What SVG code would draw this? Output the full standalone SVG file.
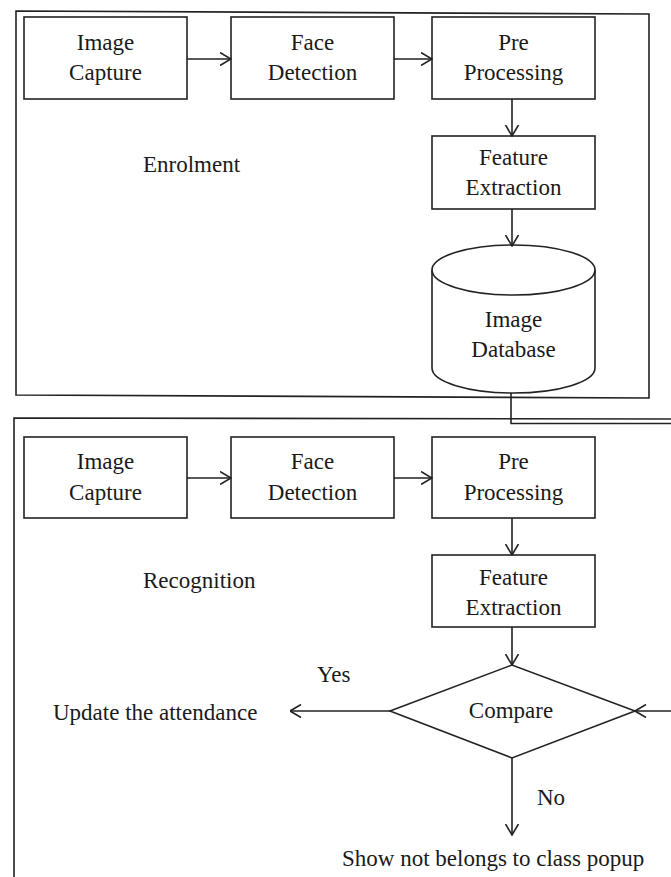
<svg xmlns="http://www.w3.org/2000/svg" width="671" height="877" viewBox="0 0 671 877" font-family="'Liberation Serif', 'DejaVu Serif', serif">
  <style>
    .frame { fill: none; stroke: #222; stroke-width: 1.6; }
    .box { fill: #fff; stroke: #222; stroke-width: 1.6; }
    .line { fill: none; stroke: #222; stroke-width: 1.6; }
    text { font-family: 'Liberation Serif', 'DejaVu Serif', serif; font-size: 23px; fill: #1a1a1a; }
    .c { text-anchor: middle; }
  </style>
  <defs>
    <marker id="arrow" viewBox="0 0 12 14" refX="11.5" refY="7" markerWidth="12" markerHeight="14" markerUnits="userSpaceOnUse" orient="auto">
      <path d="M0.5,0.5 L11.5,7 L0.5,13.5" fill="none" stroke="#222" stroke-width="1.6"/>
    </marker>
  </defs>
  <rect width="671" height="877" fill="#fff"/>

  <!-- Section frames -->
  <g id="enrolment-frame">
    <path class="frame" d="M16,11 L649,14 L649,398 L16,395 Z"/>
    <text x="143" y="172">Enrolment</text>
  </g>
  <g id="recognition-frame">
    <path class="frame" d="M671,419 L14,418 L14,877"/>
    <text x="143" y="588">Recognition</text>
  </g>

  <!-- Enrolment nodes -->
  <g id="e-image-capture">
    <rect class="box" x="24" y="17" width="163" height="82"/>
    <text class="c" x="105.5" y="50">Image</text>
    <text class="c" x="105.5" y="80">Capture</text>
  </g>
  <g id="e-face-detection">
    <rect class="box" x="231" y="17" width="163" height="82"/>
    <text class="c" x="312.5" y="50">Face</text>
    <text class="c" x="312.5" y="80">Detection</text>
  </g>
  <g id="e-pre-processing">
    <rect class="box" x="432" y="17" width="163" height="82"/>
    <text class="c" x="513.5" y="50">Pre</text>
    <text class="c" x="513.5" y="80">Processing</text>
  </g>
  <g id="e-feature-extraction">
    <rect class="box" x="432" y="136" width="163" height="73"/>
    <text class="c" x="513.5" y="165">Feature</text>
    <text class="c" x="513.5" y="195">Extraction</text>
  </g>
  <g id="image-database">
    <path class="box" d="M432,270 L432,368 A81.5,25 0 0 0 595,368 L595,270 A81.5,25 0 0 0 432,270 Z"/>
    <path class="line" d="M432,270 A81.5,25 0 0 0 595,270"/>
    <text class="c" x="513.5" y="327">Image</text>
    <text class="c" x="513.5" y="357">Database</text>
  </g>

  <!-- Recognition nodes -->
  <g id="r-image-capture">
    <rect class="box" x="24" y="437" width="163" height="81"/>
    <text class="c" x="105.5" y="469">Image</text>
    <text class="c" x="105.5" y="500">Capture</text>
  </g>
  <g id="r-face-detection">
    <rect class="box" x="231" y="437" width="163" height="81"/>
    <text class="c" x="312.5" y="469">Face</text>
    <text class="c" x="312.5" y="500">Detection</text>
  </g>
  <g id="r-pre-processing">
    <rect class="box" x="432" y="437" width="163" height="81"/>
    <text class="c" x="513.5" y="469">Pre</text>
    <text class="c" x="513.5" y="500">Processing</text>
  </g>
  <g id="r-feature-extraction">
    <rect class="box" x="432" y="555" width="163" height="72"/>
    <text class="c" x="513.5" y="585">Feature</text>
    <text class="c" x="513.5" y="615">Extraction</text>
  </g>
  <g id="compare">
    <path class="box" d="M390,711 L512,665 L635,711 L512,758 Z"/>
    <text class="c" x="511" y="718">Compare</text>
  </g>
  <g id="update-attendance">
    <text x="53" y="720">Update the attendance</text>
  </g>
  <g id="not-in-class">
    <text x="342" y="866">Show not belongs to class popup</text>
  </g>

  <!-- Connectors -->
  <g id="connectors">
    <line class="line" x1="187" y1="59" x2="231" y2="59" marker-end="url(#arrow)"/>
    <line class="line" x1="394" y1="59" x2="432" y2="59" marker-end="url(#arrow)"/>
    <line class="line" x1="512" y1="99" x2="512" y2="136" marker-end="url(#arrow)"/>
    <line class="line" x1="512" y1="209" x2="512" y2="246" marker-end="url(#arrow)"/>
    <path class="line" d="M511,393 L511,423.5 L671,423.5"/>

    <line class="line" x1="187" y1="478" x2="231" y2="478" marker-end="url(#arrow)"/>
    <line class="line" x1="394" y1="478" x2="432" y2="478" marker-end="url(#arrow)"/>
    <line class="line" x1="512" y1="518" x2="512" y2="555" marker-end="url(#arrow)"/>
    <line class="line" x1="512" y1="627" x2="512" y2="665" marker-end="url(#arrow)"/>
    <line class="line" x1="671" y1="711" x2="635" y2="711" marker-end="url(#arrow)"/>
    <line class="line" x1="390" y1="711" x2="290" y2="711" marker-end="url(#arrow)"/>
    <line class="line" x1="512" y1="758" x2="512" y2="835" marker-end="url(#arrow)"/>
    <text x="317" y="682">Yes</text>
    <text x="537" y="805">No</text>
  </g>
</svg>
